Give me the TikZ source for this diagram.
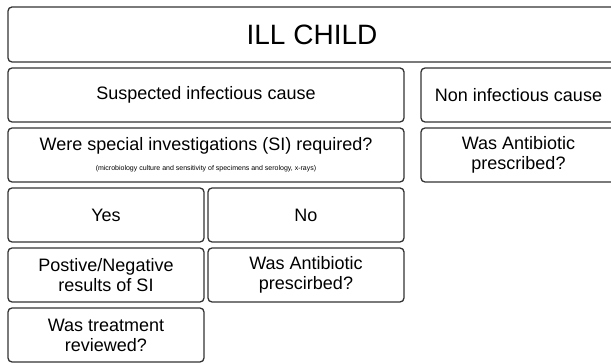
\documentclass[tikz,border=0pt]{standalone}
\usepackage{fontspec}
\setmainfont{Liberation Sans}
\usetikzlibrary{positioning}
\tikzset{
  cell/.style={draw=black!80, line width=1.3pt, rounded corners=4pt, inner sep=0pt,
    outer sep=0pt, align=center, minimum height=54pt, font=\fontsize{18}{20}\selectfont},
  wide/.style={cell, minimum width=396pt},
  half/.style={cell, minimum width=196pt},
  side/.style={cell, minimum width=195pt}
}
\begin{document}
\begin{tikzpicture}[x=1pt,y=-1pt]
\useasboundingbox (0,0) rectangle (611,363);
\clip (0,0) rectangle (611,363);
% top row
\node[cell, anchor=north west, minimum width=608pt, minimum height=55pt,
  font=\fontsize{28}{30}\selectfont] (ill) at (8,7) {ILL CHILD};
% left column
\node[wide, below right=6pt and 0pt of ill.south west] (susp) {Suspected infectious cause};
\node[wide, below=6pt of susp] (si) {Were special investigations (SI) required?\\[0pt]
  {\fontsize{7}{8}\selectfont (microbiology culture and sensitivity of specimens and serology, x-rays)}};
\node[half, below right=6pt and 0pt of si.south west] (yes) {Yes};
\node[half, right=4pt of yes] (no) {No};
\node[half, below=6pt of yes] (posneg) {Postive/Negative\\results of SI};
\node[half, right=4pt of posneg] (abxl) {Was Antibiotic\\prescirbed?};
\node[half, below=6pt of posneg] (review) {Was treatment\\reviewed?};
% right column
\node[side, right=17pt of susp] (noninf) {Non infectious cause};
\node[side, below=6pt of noninf] (abxr) {Was Antibiotic\\prescribed?};
\end{tikzpicture}
\end{document}
